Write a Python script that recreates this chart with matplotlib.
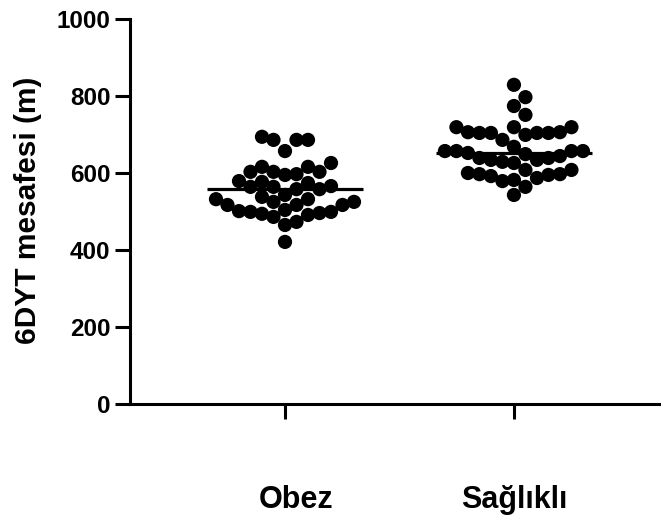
import numpy as np
import matplotlib
matplotlib.use("Agg")
import matplotlib.pyplot as plt
import matplotlib.transforms as mtransforms

plt.rcParams['font.family'] = ['Liberation Sans', 'DejaVu Sans']
plt.rcParams['font.weight'] = 'bold'

# 6DYT distance (m)
groups = ["Obez", "Sağlıklı"]
obez = [517, 603, 564, 517, 616, 577, 532, 491, 657, 564, 501, 686, 538, 494,
        603, 543, 499, 686, 626, 579, 525, 465, 421, 694, 595, 499, 686, 616,
        574, 532, 486, 597, 558, 496, 603, 558, 517, 473, 566, 525, 504]
saglikli = [629, 704, 657, 608, 704, 657, 597, 704, 657, 592, 774, 699, 657,
            608, 564, 829, 719, 639, 582, 751, 704, 639, 579, 797, 719, 668,
            626, 587, 706, 649, 600, 543, 719, 652, 597, 686, 644, 595, 706,
            634, 634]
yticks = [0, 200, 400, 600, 800, 1000]


def swarm(ax, xc, vals, step_px=11.5, gap_y_px=15.0):
    # GraphPad-like layout: columns step_px apart; dots side by side in a row may touch,
    # dots in the same column need gap_y_px vertical room (elliptical exclusion)
    vals = np.asarray(vals, dtype=float)
    order = np.argsort(vals)
    to_px = ax.transData.transform
    px_per_unit = to_px((xc + 1, 0))[0] - to_px((xc, 0))[0]
    placed = []
    xs = np.zeros(len(vals))
    for i in order:
        py = to_px((xc, vals[i]))[1]
        for k in range(60):
            off = ((k + 1) // 2) * (1 if k % 2 else -1) * step_px
            if all(np.hypot((qx - off) / step_px, (qy - py) / gap_y_px) >= 0.99
                   for qx, qy in placed):
                placed.append((off, py))
                xs[i] = xc + off / px_per_unit
                break
    return xs, vals


fig = plt.figure(figsize=(6.61, 5.18), dpi=100)
ax = fig.add_axes([130/661, 1 - 404/518, 530/661, 385/518])
ax.set_xlim(-0.677, 1.638)
ax.set_ylim(0, 1000)

for i, data in enumerate([obez, saglikli]):
    xs, ys = swarm(ax, i, data)
    ax.scatter(xs, ys, s=105, color='black', edgecolors='none', zorder=3, clip_on=False)
    # centre line = median
    ax.hlines(np.median(data), i - 0.34, i + 0.34, color='black', lw=2.3, zorder=4)

for s in ['top', 'right']:
    ax.spines[s].set_visible(False)
for s in ['left', 'bottom']:
    ax.spines[s].set_linewidth(2.2)

ax.set_yticks(yticks)
ax.set_yticklabels([str(t) for t in yticks], fontsize=17.5, fontweight='bold')
ax.set_xticks([0, 1])
ax.set_xticklabels(groups, fontsize=22, fontweight='bold')
ax.tick_params(axis='both', length=11, width=2.2)
ax.tick_params(axis='x', pad=47)
ax.tick_params(axis='y', pad=3)

# GraphPad put the first label slightly right of its tick
lab = ax.get_xticklabels()[0]
lab.set_transform(lab.get_transform() + mtransforms.ScaledTranslation(0.11, 0, fig.dpi_scale_trans))

ax.set_ylabel("6DYT mesafesi (m)", fontsize=21.5, fontweight='bold', va='center')
ax.yaxis.set_label_coords(-0.192, 0.504)

fig.savefig("out.png", dpi=100)
